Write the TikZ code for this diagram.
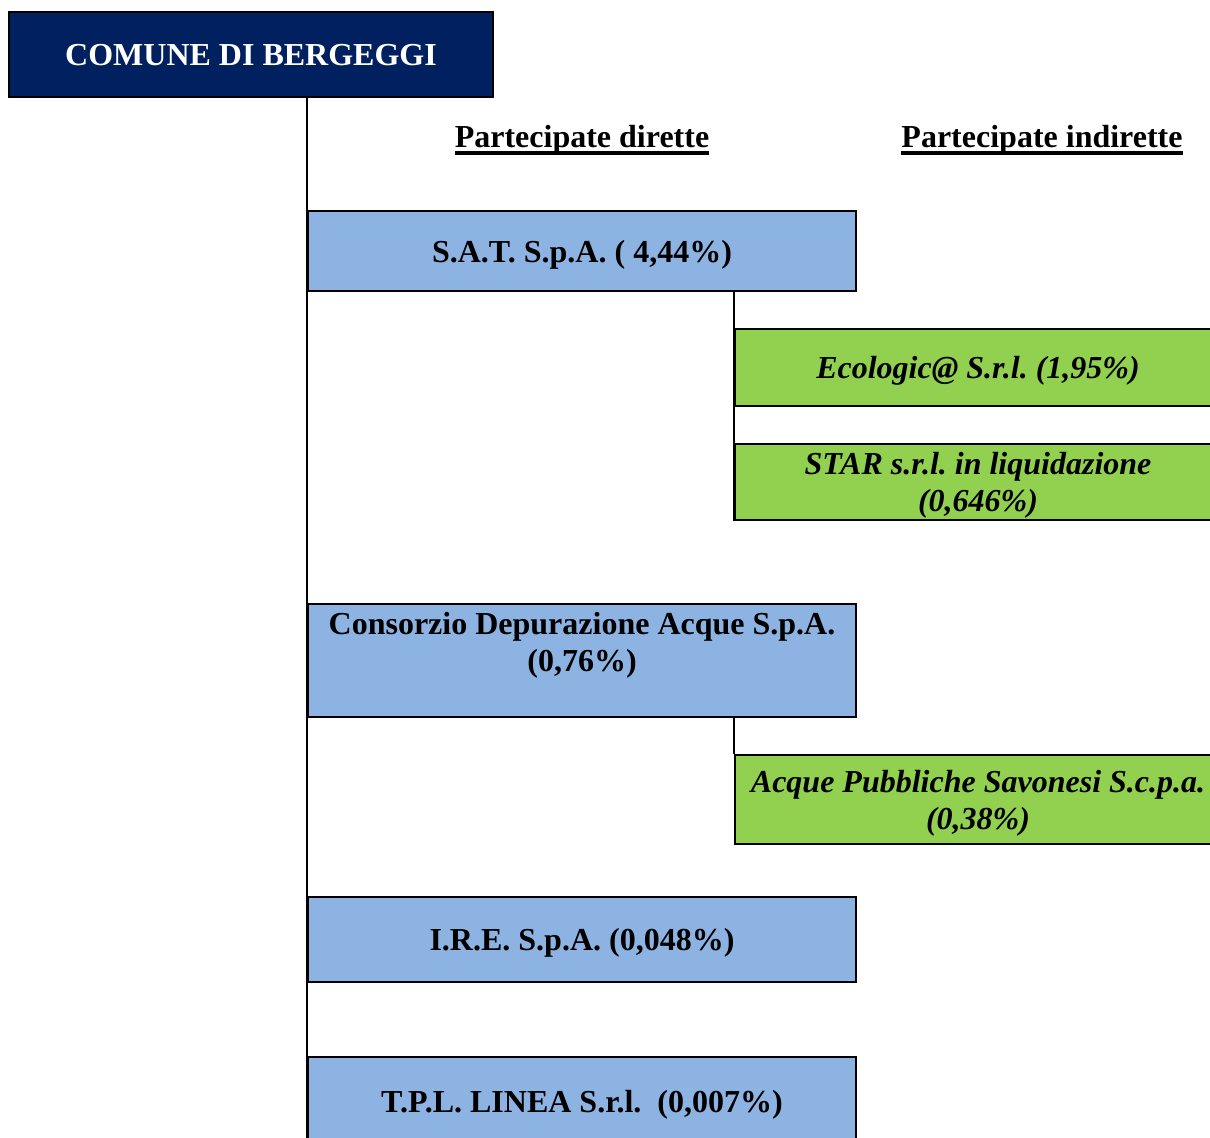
\documentclass[tikz,border=0pt]{standalone}
\usepackage{fontspec}
\setmainfont{Liberation Serif}
\usepackage{tikz}
\usepackage{xcolor}

\definecolor{navy}{HTML}{002060}
\definecolor{dirblue}{HTML}{8DB3E2}
\definecolor{indgreen}{HTML}{92D050}
\newcommand\ulhead[1]{\setbox0\hbox{#1}\rlap{\rule[-3pt]{\wd0}{1.4pt}}\box0}
\frenchspacing

\begin{document}
\begin{tikzpicture}[x=0.375pt,y=-0.375pt,line width=0.75pt,
        font=\fontsize{12}{13.9}\selectfont\bfseries,text depth=0pt,
        direct/.style={draw,fill=dirblue,minimum width=205.5pt,inner sep=0pt,align=center},
        indirect/.style={draw,fill=indgreen,minimum width=182.25pt,inner sep=0pt,align=center,font=\fontsize{12}{13.9}\selectfont\bfseries\itshape}]
        \useasboundingbox (0,0) rectangle (1210,1137);
        \clip (0,0) rectangle (1210,1137);

        % Comune
        \node[draw,fill=navy,text=white,minimum width=181.5pt,minimum height=31.9pt,inner sep=0pt] (comune) at (251,54.5) {COMUNE DI BERGEGGI};

        % Headers
        \node (hdir) at (582,136) {\ulhead{Partecipate dirette}};
        \node (hind) at (1042,136) {\ulhead{Partecipate indirette}};

        % Partecipate dirette
        \node[direct,minimum height=30pt] (sat) at (582,251) {S.A.T. S.p.A. ( 4,44\%)};
        \node[direct,minimum height=42.4pt] (cdep) at (582,660.5) {Consorzio Depurazione Acque S.p.A.\\(0,76\%)\\\mbox{}};
        \node[direct,minimum height=31.9pt] (ire) at (582,939.5) {I.R.E. S.p.A. (0,048\%)};
        \node[direct,minimum height=33pt] (tpl) at (582,1101) {T.P.L. LINEA S.r.l.\ \ (0,007\%)};

        % Partecipate indirette
        \node[indirect,minimum height=28.9pt] (eco) at (978,367.5) {Ecologic@ S.r.l. (1,95\%)};
        \node[indirect,minimum height=28.5pt] (star) at (978,482) {STAR s.r.l. in liquidazione\\(0,646\%)};
        \node[indirect,minimum height=33.4pt] (aps) at (978,799.5) {Acque Pubbliche Savonesi S.c.p.a.\\(0,38\%)};

        % Connectors
        \draw (sat.west |- comune.south) -- (tpl.south west);
        \draw (eco.west |- sat.south) -- (star.south west);
        \draw (aps.west |- cdep.south) -- (aps.north west);
    \end{tikzpicture}
\end{document}
